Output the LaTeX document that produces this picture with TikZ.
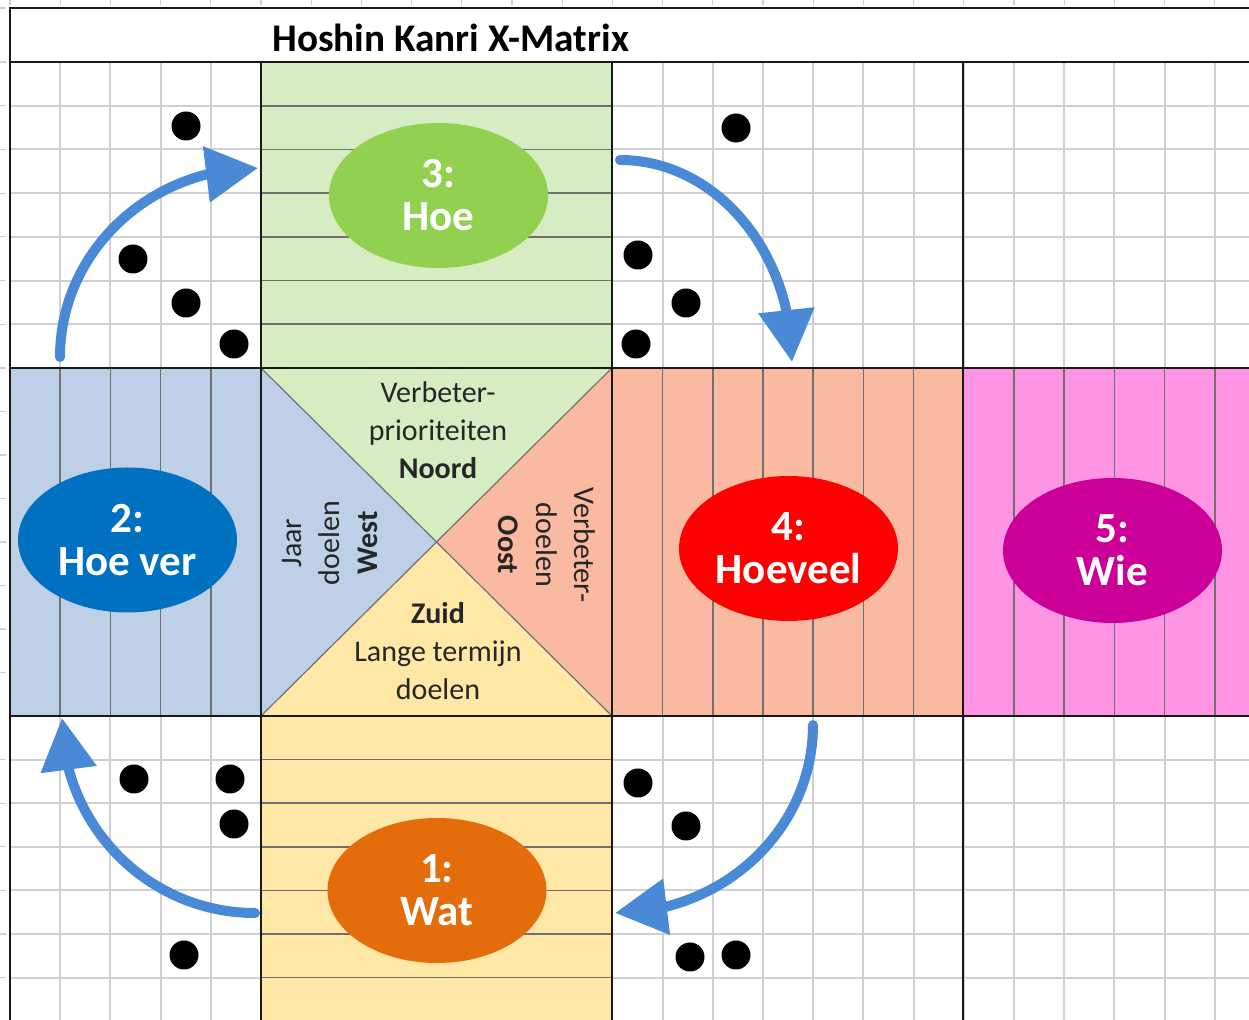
\documentclass[tikz,border=0pt]{standalone}
\usepackage{fontspec}
\setmainfont{Carlito}
\usetikzlibrary{arrows.meta,bending,shapes.geometric}

\definecolor{gridlight}{RGB}{208,208,208}
\definecolor{griddark}{RGB}{112,112,112}
\definecolor{edge}{RGB}{25,25,25}
\definecolor{greenfill}{RGB}{214,236,194}
\definecolor{bluefill}{RGB}{190,208,232}
\definecolor{salmonfill}{RGB}{250,186,162}
\definecolor{pinkfill}{RGB}{255,148,228}
\definecolor{yellowfill}{RGB}{255,232,165}
\definecolor{ehoe}{RGB}{146,208,80}
\definecolor{ehoever}{RGB}{0,112,192}
\definecolor{ehoeveel}{RGB}{255,0,0}
\definecolor{ewie}{RGB}{204,0,153}
\definecolor{ewat}{RGB}{228,108,10}
\definecolor{arrowblue}{RGB}{74,137,214}
\definecolor{txt}{RGB}{38,38,38}

\begin{document}
\begin{tikzpicture}[x=0.5pt,y=-0.5pt,
  oval/.style={ellipse, minimum width=109.5pt, minimum height=72.5pt, inner sep=0pt,
    text=white, align=center, font=\fontsize{21.5}{21.5}\selectfont\bfseries},
  flowarrow/.style={arrowblue, line width=5pt, line cap=round,
    -{Triangle[length=26pt,width=27pt,flex]}},
  dot/.style={circle, fill=black, minimum size=14.5pt, inner sep=0pt},
  lightline/.style={gridlight, line width=1pt},
  darkline/.style={griddark, line width=0.8pt},
  thickline/.style={edge, line width=1.2pt},
  quadtext/.style={text=txt, align=center, inner sep=0pt, font=\fontsize{15}{19}\selectfont},
  titletext/.style={text=black, inner sep=0pt, font=\fontsize{19.6}{22}\selectfont\bfseries}
]
\useasboundingbox (0,0) rectangle (1249,1020);
\clip (0,0) rectangle (1249,1020);

% background
\fill[white] (0,0) rectangle (1249,1020);

% faint outside ticks
\foreach \i in {0,...,25} \draw[gridlight, line width=0.6pt] ({10+50.2*\i},0) -- ({10+50.2*\i},5);
\foreach \j in {0,...,7} \draw[gridlight, line width=0.6pt] (0,{62+43.71*\j}) -- (6,{62+43.71*\j});
\foreach \j in {1,...,7} \draw[gridlight, line width=0.6pt] (0,{368+43.5*\j}) -- (6,{368+43.5*\j});
\foreach \j in {1,...,7} \draw[gridlight, line width=0.6pt] (0,{716+43.6*\j}) -- (6,{716+43.6*\j});
\draw[gridlight, line width=0.6pt] (0,8) -- (6,8);

% light grid in white areas
\foreach \i in {1,...,25} \draw[lightline] ({10+50.2*\i},62) -- ({10+50.2*\i},1020);
\foreach \j in {1,...,6} \draw[lightline] (10,{62+43.71*\j}) -- (1249,{62+43.71*\j});
\foreach \j in {1,...,7} \draw[lightline] (10,{716+43.6*\j}) -- (1249,{716+43.6*\j});

% coloured blocks
\fill[greenfill] (261,62) rectangle (612,368);
\foreach \j in {1,...,6} \draw[darkline] (261,{62+43.71*\j}) -- (612,{62+43.71*\j});

\fill[bluefill] (10,368) rectangle (261,716);
\foreach \i in {1,...,4} \draw[darkline] ({10+50.2*\i},368) -- ({10+50.2*\i},716);

\fill[salmonfill] (612,368) rectangle (963,716);
\foreach \i in {13,...,18} \draw[darkline] ({10+50.2*\i},368) -- ({10+50.2*\i},716);

\fill[pinkfill] (963,368) rectangle (1260,716);
\foreach \i in {20,...,25} \draw[darkline] ({10+50.2*\i},368) -- ({10+50.2*\i},716);

\fill[yellowfill] (261,716) rectangle (612,1030);
\foreach \j in {1,...,7} \draw[darkline] (261,{716+43.6*\j}) -- (612,{716+43.6*\j});

% centre X
\coordinate (A) at (261,368);
\coordinate (B) at (612,368);
\coordinate (C) at (612,716);
\coordinate (D) at (261,716);
\coordinate (O) at (436.5,542);
\fill[greenfill] (A) -- (B) -- (O) -- cycle;
\fill[salmonfill] (B) -- (C) -- (O) -- cycle;
\fill[yellowfill] (C) -- (D) -- (O) -- cycle;
\fill[bluefill] (D) -- (A) -- (O) -- cycle;
\draw[griddark, line width=0.6pt] (A) -- (C) (B) -- (D);

% thick section lines
\draw[thickline] (10,8) rectangle (1270,1040);
\draw[thickline] (10,62) -- (1249,62);
\draw[thickline] (10,368) -- (1249,368);
\draw[thickline] (10,716) -- (1249,716);
\draw[thickline] (261,62) -- (261,1020);
\draw[thickline] (612,62) -- (612,1020);
\draw[thickline] (963,62) -- (963,1020);

% title
\node[titletext, anchor=base west] (title) at (272,52) {Hoshin Kanri X-Matrix};

% quadrant texts
\node[quadtext] (noord) at (438,430) {Verbeter-\\prioriteiten\\\textbf{Noord}};
\node[quadtext] (zuid) at (438,651) {\textbf{Zuid}\\Lange termijn\\doelen};
\node[quadtext, rotate=90] (west) at (330,543) {Jaar\\doelen\\\textbf{West}};
\node[quadtext, rotate=-90] (oost) at (547,545) {Verbeter-\\doelen\\\textbf{Oost}};

% ellipses
\node[oval, fill=ehoe] (hoe) at (438.5,195.5) {3:\\Hoe};
\node[oval, fill=ehoever] (hoever) at (127.5,540) {2:\\Hoe ver};
\node[oval, fill=ehoeveel] (hoeveel) at (788.5,548.5) {4:\\Hoeveel};
\node[oval, fill=ewie] (wie) at (1112.5,550.5) {5:\\Wie};
\node[oval, fill=ewat] (wat) at (437,890.5) {1:\\Wat};

% dots
\foreach \p/\n in {{186,126}/1,{133,259}/2,{186,303}/3,{234,344}/4,
                   {736,128}/5,{638,255}/6,{686,303}/7,{636,344}/8,
                   {134,779}/9,{230,779}/10,{234,824}/11,{184,955}/12,
                   {638,783}/13,{686,826}/14,{690,957}/15,{736,955}/16}
  \node[dot] (dot\n) at (\p) {};

% cycle arrows
\coordinate (a1s) at (60,357);  \coordinate (a1e) at (258,168);
\coordinate (a2s) at (620,160); \coordinate (a2e) at (792,362);
\coordinate (a3s) at (813,725); \coordinate (a3e) at (615,913);
\coordinate (a4s) at (255,913); \coordinate (a4e) at (62,718);
\draw[flowarrow] (a1s) .. controls (60,252.6) and (148.6,168) .. (a1e);
\draw[flowarrow] (a2s) .. controls (715,160) and (792,250.4) .. (a2e);
\draw[flowarrow] (a3s) .. controls (813,828.8) and (724.4,913) .. (a3e);
\draw[flowarrow] (a4s) .. controls (148.4,913) and (62,825.7) .. (a4e);
\end{tikzpicture}
\end{document}
